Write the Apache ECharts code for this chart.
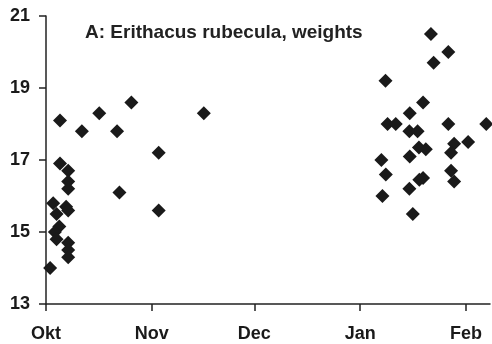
<!DOCTYPE html>
<html>
<head>
<meta charset="utf-8">
<script src="https://cdn.jsdelivr.net/npm/echarts@6/dist/echarts.min.js"></script>
<style>
    html, body { margin: 0; padding: 0; background: #fff; }
    #chart { width: 492px; height: 344px; }
</style>
</head>
<body>
<div id="chart"></div>
<script>
// x = Tage seit 1. Oktober
const monthNames = ['Okt', 'Nov', 'Dec', 'Jan', 'Feb'];
const monthStarts = [0, 31, 61, 92, 123];
const yTicks = [13, 15, 17, 19, 21];

// Herbst-Fänge
const autumnDays = [1.2, 4.1, 6.5, 6.5, 6.5, 2.1, 3.1, 5.9, 6.5, 3.9, 2.6, 3.1, 6.5, 6.5, 6.5,
    4.1, 10.5, 15.6, 20.8, 25.0, 33.0, 46.2, 21.5, 33.0];
const autumnWeights = [14.0, 16.9, 16.7, 16.4, 16.2, 15.8, 15.5, 15.7, 15.6, 15.15, 15.0, 14.8, 14.7, 14.5, 14.3,
    18.1, 17.8, 18.3, 17.8, 18.6, 17.2, 18.3, 16.1, 15.6];

// Winter-Fänge
const winterDays = [98.2, 99.5, 98.5, 99.4, 100.0, 102.4, 106.5, 106.4, 108.8, 110.4, 106.5, 106.4, 107.4,
    109.2, 111.2, 109.3, 110.4, 112.7, 113.5, 117.8, 117.8, 119.5, 118.6, 118.6, 119.5, 123.6, 128.9];
const winterWeights = [17.0, 16.6, 16.0, 19.2, 18.0, 18.0, 18.3, 17.8, 17.8, 18.6, 17.1, 16.2, 15.5,
    17.35, 17.3, 16.45, 16.5, 20.5, 19.7, 20.0, 18.0, 17.45, 17.2, 16.7, 16.4, 17.5, 18.0];

const pairs = (xs, ys) => xs.map((x, i) => [x, ys[i]]);

const chart = echarts.init(document.getElementById('chart'));
const fontFamily = 'Liberation Sans, Arial, sans-serif';
const labelFont = { fontFamily: fontFamily, fontWeight: 'bold', fontSize: 18, color: '#1a1a1a' };
const axisColor = '#222';

chart.setOption({
    animation: false,
    title: {
        text: 'A: Erithacus rubecula, weights',
        left: 85,
        top: 23,
        padding: 0,
        textStyle: { fontFamily: fontFamily, fontWeight: 'bold', fontSize: 19, color: '#222' }
    },
    grid: { left: 46, right: 2, top: 16, bottom: 40 },
    xAxis: {
        type: 'value',
        min: 0,
        max: 130,
        splitLine: { show: false },
        axisLine: { lineStyle: { color: axisColor, width: 1.5 } },
        axisTick: { customValues: monthStarts, length: 7, lineStyle: { color: axisColor, width: 1.5 } },
        axisLabel: Object.assign({
            customValues: monthStarts,
            margin: 21,
            formatter: v => monthNames[monthStarts.indexOf(v)] || ''
        }, labelFont)
    },
    yAxis: {
        type: 'value',
        min: yTicks[0],
        max: yTicks[yTicks.length - 1],
        interval: 2,
        splitLine: { show: false },
        axisLine: { show: true, lineStyle: { color: axisColor, width: 1.5 } },
        axisTick: { show: true, length: 7, lineStyle: { color: axisColor, width: 1.5 } },
        axisLabel: Object.assign({ margin: 16 }, labelFont)
    },
    series: [
        {
            type: 'scatter',
            symbol: 'diamond',
            symbolSize: 14,
            itemStyle: { color: '#1a1a1a', opacity: 1 },
            data: pairs(autumnDays, autumnWeights)
        },
        {
            type: 'scatter',
            symbol: 'diamond',
            symbolSize: 14,
            itemStyle: { color: '#1a1a1a', opacity: 1 },
            data: pairs(winterDays, winterWeights)
        }
    ]
});
</script>
</body>
</html>
